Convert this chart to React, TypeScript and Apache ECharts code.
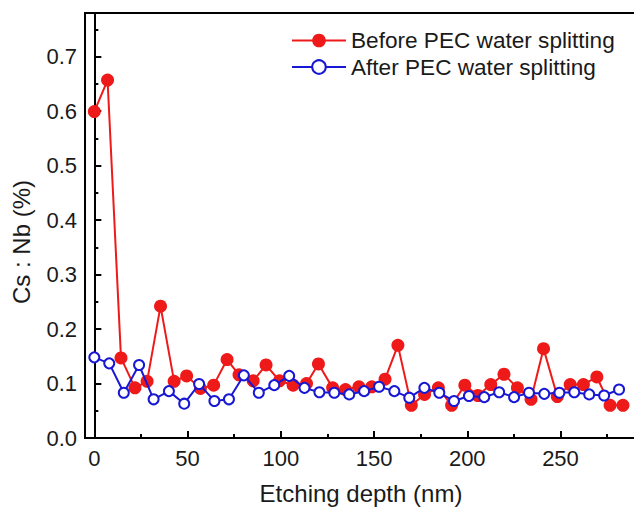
import React, { useEffect, useRef } from "react";
import * as echarts from "echarts";

const beforeDepth = [0, 7.1, 14.3, 21.8, 28.3, 35.5, 42.8, 49.5, 56.9, 64.0, 71.2, 77.6, 85.2, 92.1, 99.3, 106.6, 113.8, 120.2, 127.8, 134.7, 141.9, 148.8, 155.9, 162.8, 170.0, 177.1, 184.5, 191.6, 198.7, 205.7, 212.6, 219.7, 226.9, 234.2, 240.9, 248.3, 255.2, 262.3, 269.5, 276.6, 283.5];
const beforeRatio = [0.599, 0.657, 0.147, 0.092, 0.104, 0.242, 0.104, 0.114, 0.091, 0.097, 0.144, 0.116, 0.105, 0.134, 0.105, 0.097, 0.1, 0.136, 0.092, 0.089, 0.094, 0.094, 0.108, 0.17, 0.06, 0.08, 0.092, 0.06, 0.097, 0.078, 0.098, 0.117, 0.092, 0.071, 0.164, 0.076, 0.098, 0.098, 0.112, 0.06, 0.06];

const afterDepth = [0, 8.0, 15.8, 24.0, 31.8, 40.0, 48.2, 56.2, 64.4, 72.2, 80.2, 88.2, 96.5, 104.5, 112.7, 120.7, 128.7, 136.7, 144.7, 152.7, 160.9, 168.9, 177.0, 185.0, 192.9, 200.9, 209.1, 217.1, 225.1, 233.1, 241.3, 249.4, 257.4, 265.4, 273.4, 281.4];
const afterRatio = [0.148, 0.137, 0.083, 0.134, 0.071, 0.086, 0.063, 0.099, 0.068, 0.071, 0.115, 0.083, 0.097, 0.114, 0.092, 0.084, 0.083, 0.08, 0.086, 0.094, 0.086, 0.074, 0.092, 0.083, 0.068, 0.077, 0.075, 0.084, 0.075, 0.083, 0.081, 0.083, 0.084, 0.08, 0.078, 0.089];

const seriesNames = ["Before PEC water splitting", "After PEC water splitting"];
const xTitle = "Etching depth (nm)";
const yTitle = "Cs : Nb (%)";

const RED = "#ee1a1a";
const BLUE = "#1818d4";
const FONT = "'Liberation Sans', Arial, Helvetica, sans-serif";
const TXT = "#1a1a1a";

export default function App() {
  const ref = useRef<HTMLDivElement>(null);
  useEffect(() => {
    if (!ref.current) return;
    const chart = echarts.init(ref.current, null, { renderer: "svg" });
    const axisCommon = {
      axisLine: { show: true, lineStyle: { color: "#000", width: 2 } },
      axisTick: { show: true, inside: true, length: 7, lineStyle: { color: "#000", width: 2 } },
      minorTick: { show: true, splitNumber: 2, length: 4, lineStyle: { color: "#000", width: 2 } },
      splitLine: { show: false },
    };
    chart.setOption({
      animation: false,
      backgroundColor: "#fff",
      textStyle: { fontFamily: FONT },
      grid: {
        left: 85,
        top: 13,
        bottom: 69,
        right: 10,
        outerBoundsMode: "none",
        containLabel: false,
        show: true,
        borderColor: "#000",
        borderWidth: 2,
        backgroundColor: "transparent",
      },
      legend: {
        orient: "vertical",
        left: 286,
        top: 24,
        itemWidth: 54,
        itemHeight: 17,
        itemGap: 3.5,
        textStyle: { fontSize: 22.6, color: TXT, fontFamily: FONT },
        data: seriesNames,
      },
      xAxis: {
        type: "value",
        min: -5,
        max: 298,
        ...axisCommon,
        axisLabel: {
          fontSize: 22,
          color: TXT,
          fontFamily: FONT,
          margin: 9,
          showMinLabel: false,
          showMaxLabel: false,
          formatter: (v: number) => String(Math.round(v)),
        },
      },
      yAxis: {
        type: "value",
        min: 0,
        max: 0.78,
        interval: 0.1,
        ...axisCommon,
        axisLabel: {
          fontSize: 22,
          color: TXT,
          fontFamily: FONT,
          margin: 8,
          showMaxLabel: false,
          formatter: (v: number) => v.toFixed(1),
        },
      },
      graphic: [
        {
          type: "text",
          x: 21,
          y: 242,
          rotation: Math.PI / 2,
          style: {
            text: yTitle,
            fontSize: 24,
            fontFamily: FONT,
            fill: TXT,
            textAlign: "center",
            textVerticalAlign: "middle",
          },
        },
        {
          type: "text",
          x: 361,
          y: 493,
          style: {
            text: xTitle,
            fontSize: 24,
            fontFamily: FONT,
            fill: TXT,
            textAlign: "center",
            textVerticalAlign: "middle",
          },
        },
      ],
      series: [
        {
          name: seriesNames[0],
          type: "line",
          data: beforeDepth.map((d, i) => [d, beforeRatio[i]]),
          symbol: "circle",
          symbolSize: 13,
          lineStyle: { color: RED, width: 2 },
          itemStyle: { color: RED },
          z: 2,
        },
        {
          name: seriesNames[1],
          type: "line",
          data: afterDepth.map((d, i) => [d, afterRatio[i]]),
          symbol: "emptyCircle",
          symbolSize: 10,
          lineStyle: { color: BLUE, width: 2 },
          itemStyle: { color: BLUE, borderColor: BLUE, borderWidth: 2.5 },
          z: 3,
        },
      ],
    });
    return () => chart.dispose();
  }, []);
  return (
    <div style={{ position: "absolute", left: 0, top: 0, width: 634, height: 507, overflow: "hidden", background: "#fff" }}>
      <div ref={ref} style={{ width: 660, height: 507 }} />
    </div>
  );
}
